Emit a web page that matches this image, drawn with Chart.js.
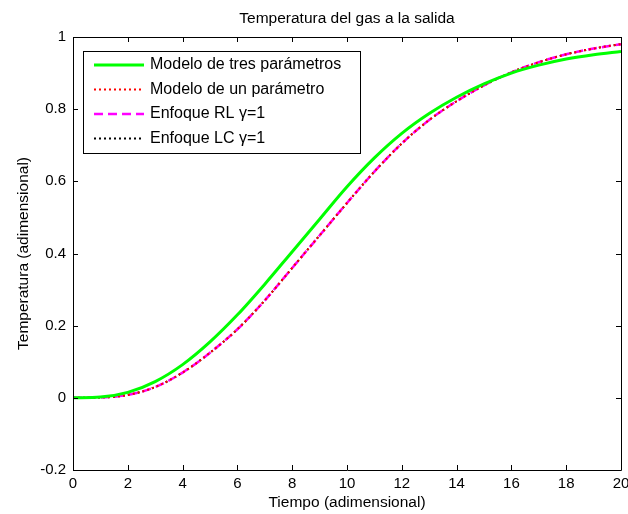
<!DOCTYPE html>
<html>
<head>
<meta charset="utf-8">
<script src="https://cdn.jsdelivr.net/npm/chart.js@4.4.1/dist/chart.umd.min.js"></script>
<style>
  html, body { margin: 0; padding: 0; background: #ffffff; }
  #wrap { width: 628px; height: 514px; }
</style>
</head>
<body>
<div id="wrap"><canvas id="grafico" width="628" height="514"></canvas></div>
<script>
// Datos
var tiempo = [0, 1, 2, 3, 4, 5, 6, 7, 8, 9, 10, 11, 12, 13, 14, 15, 16, 17, 18, 19, 20];
var tresParametros = [0, 0.002, 0.015, 0.045, 0.092, 0.155, 0.230, 0.315, 0.405, 0.495, 0.585, 0.665, 0.733, 0.788, 0.833, 0.870, 0.900, 0.922, 0.939, 0.951, 0.960];
var unParametro = [0, 0.001, 0.008, 0.030, 0.070, 0.125, 0.190, 0.270, 0.360, 0.450, 0.540, 0.627, 0.705, 0.770, 0.822, 0.866, 0.902, 0.930, 0.952, 0.968, 0.980];
var enfoqueRL = [0, 0.001, 0.008, 0.030, 0.070, 0.125, 0.190, 0.270, 0.360, 0.450, 0.540, 0.627, 0.705, 0.770, 0.822, 0.866, 0.902, 0.930, 0.952, 0.968, 0.980];
var enfoqueLC = [0, 0.001, 0.008, 0.030, 0.070, 0.125, 0.190, 0.270, 0.360, 0.450, 0.540, 0.627, 0.705, 0.770, 0.822, 0.866, 0.902, 0.930, 0.952, 0.968, 0.980];
var etiquetas = ['Modelo de tres parámetros', 'Modelo de un parámetro', 'Enfoque RL \u03b3=1', 'Enfoque LC \u03b3=1'];

var fuente = 'Liberation Sans, Arial, Helvetica, sans-serif';

function puntos(valores) {
    return tiempo.map(function (t, i) { return { x: t, y: valores[i] }; });
}

// Etiquetas como MATLAB: 1, 0.8, 0, -0.2
function formato(v) {
    var r = Math.round(v * 10) / 10;
    if (r === 0) { return '0'; }
    return String(r);
}

// Caja y marcas hacia dentro, estilo MATLAB
var ejesMatlab = {
    id: 'ejesMatlab',
    afterDraw: function (chart) {
        var ctx = chart.ctx;
        var a = chart.chartArea;
        var sx = chart.scales.x;
        var sy = chart.scales.y;
        ctx.save();
        ctx.strokeStyle = '#000000';
        ctx.lineWidth = 1;
        ctx.setLineDash([]);
        ctx.beginPath();
        ctx.rect(Math.round(a.left) + 0.5, Math.round(a.top) + 0.5, Math.round(a.right - a.left), Math.round(a.bottom - a.top));
        ctx.stroke();
        var largo = 5;
        ctx.beginPath();
        sx.ticks.forEach(function (tk) {
            var px = Math.round(sx.getPixelForValue(tk.value)) + 0.5;
            ctx.moveTo(px, a.bottom); ctx.lineTo(px, a.bottom - largo);
            ctx.moveTo(px, a.top); ctx.lineTo(px, a.top + largo);
        });
        sy.ticks.forEach(function (tk) {
            var py = Math.round(sy.getPixelForValue(tk.value)) + 0.5;
            ctx.moveTo(a.left, py); ctx.lineTo(a.left + largo, py);
            ctx.moveTo(a.right, py); ctx.lineTo(a.right - largo, py);
        });
        ctx.stroke();

        // Leyenda dentro del area
        var bx = 83.5, by = 51.5, bw = 277, bh = 102;
        ctx.fillStyle = '#ffffff';
        ctx.fillRect(bx, by, bw, bh);
        ctx.strokeStyle = '#000000';
        ctx.lineWidth = 1;
        ctx.strokeRect(bx, by, bw, bh);
        ctx.font = '16px ' + fuente;
        ctx.textBaseline = 'middle';
        ctx.textAlign = 'left';
        chart.data.datasets.forEach(function (ds, i) {
            var yy = 65 + i * 24.5;
            ctx.save();
            ctx.strokeStyle = ds.borderColor;
            ctx.lineWidth = ds.borderWidth;
            ctx.setLineDash(ds.borderDash || []);
            ctx.beginPath();
            ctx.moveTo(94, yy);
            ctx.lineTo(144, yy);
            ctx.stroke();
            ctx.restore();
            ctx.fillStyle = '#000000';
            ctx.fillText(ds.label, 150, yy);
        });
        ctx.restore();
    }
};

var ctx = document.getElementById('grafico').getContext('2d');
var grafico = new Chart(ctx, {
    type: 'line',
    data: {
        datasets: [{
            label: etiquetas[0],
            data: puntos(tresParametros),
            borderColor: '#00ff00',
            borderWidth: 3,
            cubicInterpolationMode: 'monotone'
        }, {
            label: etiquetas[1],
            data: puntos(unParametro),
            borderColor: '#ff0000',
            borderWidth: 2,
            borderDash: [2, 3],
            cubicInterpolationMode: 'monotone'
        }, {
            label: etiquetas[2],
            data: puntos(enfoqueRL),
            borderColor: '#ff00ff',
            borderWidth: 2.5,
            borderDash: [9, 5],
            cubicInterpolationMode: 'monotone'
        }, {
            label: etiquetas[3],
            data: puntos(enfoqueLC),
            borderColor: '#000000',
            borderWidth: 2,
            borderDash: [2, 3],
            cubicInterpolationMode: 'monotone'
        }]
    },
    options: {
        responsive: false,
        animation: false,
        devicePixelRatio: 1,
        elements: { point: { radius: 0 } },
        layout: { padding: { left: 0, right: 7, top: 0, bottom: 0 } },
        scales: {
            x: {
                type: 'linear',
                min: 0,
                max: 20,
                ticks: { stepSize: 2, color: '#000000', padding: 5, maxRotation: 0, font: { family: fuente, size: 15 } },
                grid: { display: false, drawTicks: false },
                border: { display: false },
                title: { display: true, text: 'Tiempo (adimensional)', color: '#000000', padding: { top: 0, bottom: 2 }, font: { family: fuente, size: 15.5 } },
                afterFit: function (scale) { scale.height = 44; scale.paddingLeft = 0; scale.paddingRight = 0; }
            },
            y: {
                min: -0.2,
                max: 1,
                ticks: { stepSize: 0.2, color: '#000000', padding: 7, font: { family: fuente, size: 15 }, callback: formato },
                grid: { display: false, drawTicks: false },
                border: { display: false },
                title: { display: true, text: 'Temperatura (adimensional)', color: '#000000', padding: { top: 14, bottom: 0 }, font: { family: fuente, size: 15.5 } },
                afterFit: function (scale) { scale.width = 73; scale.paddingTop = 0; scale.paddingBottom = 0; }
            }
        },
        plugins: {
            legend: { display: false },
            tooltip: { enabled: false },
            title: {
                display: true,
                fullSize: false,
                text: 'Temperatura del gas a la salida',
                color: '#000000',
                font: { family: fuente, size: 15.5, weight: 'normal', lineHeight: 1.2 },
                padding: { top: 9, bottom: 9.4 }
            }
        }
    },
    plugins: [ejesMatlab]
});
</script>
</body>
</html>
